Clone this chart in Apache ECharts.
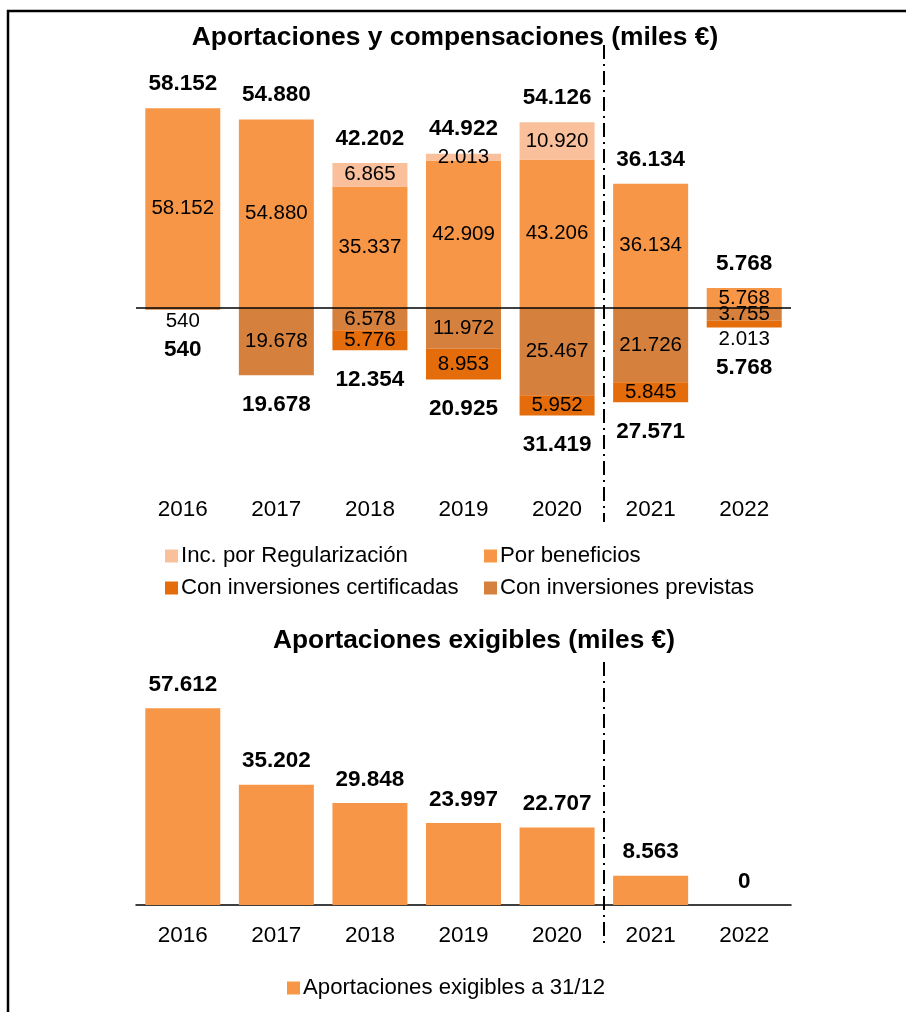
<!DOCTYPE html>
<html><head><meta charset="utf-8">
<script src="https://cdn.jsdelivr.net/npm/echarts@6/dist/echarts.min.js"></script>
<style>html,body{margin:0;padding:0;background:#fff}#c{width:906px;height:1012px}</style>
</head><body><div id="c"></div>
<script>
const years = ['2016','2017','2018','2019','2020','2021','2022'];
const regularizacion = [0,0,6865,2013,10920,0,0];
const beneficios = [58152,54880,35337,42909,43206,36134,5768];
const previstas = [540,19678,6578,11972,25467,21726,3755];
const certificadas = [0,0,5776,8953,5952,5845,2013];
const exigibles = [57612,35202,29848,23997,22707,8563,0];

const FONT = "'Liberation Sans Narrow','Arial Narrow','Liberation Sans',Arial,sans-serif";
const fmt = v => Math.abs(v).toString().replace(/\B(?=(\d{3})+(?!\d))/g, '.');
const SMALL = 2500;

const posTotal = years.map((_, i) => beneficios[i] + regularizacion[i]);
const negTotal = years.map((_, i) => previstas[i] + certificadas[i]);
const outerSmall = years.map((_, i) => {
  const outer = certificadas[i] > 0 ? certificadas[i] : previstas[i];
  return outer < SMALL;
});

const BW = 75;
const IN_SIZE = 20.5, BOLD_SIZE = 22.5, CAT_SIZE = 22.5, LEG_SIZE = 22.2;
const inLabel = {show: true, position: 'inside', fontFamily: FONT, fontSize: IN_SIZE, color: '#000',
  formatter: p => fmt(p.value)};
const negData = arr => arr.map(v => v > 0 ? {value: -v,
  label: v < SMALL ? {position: 'bottom', distance: 1} : undefined} : null);

const chart = echarts.init(document.getElementById('c'), null, {renderer: 'canvas'});
const legendItem = (name, left, top) => ({
  data: [name], left: left, top: top, icon: 'rect', itemWidth: 13, itemHeight: 13,
  selectedMode: false, textStyle: {fontFamily: FONT, fontSize: LEG_SIZE, color: '#000', padding: [0, 0, 0, -2]},
  padding: 0, itemGap: 0
});

chart.setOption({
  animation: false,
  title: [
    {text: 'Aportaciones y compensaciones (miles €)', left: 450, top: 20, textAlign: 'center',
     textStyle: {fontFamily: FONT, fontSize: 26.4, fontWeight: 'bold', color: '#000'}},
    {text: 'Aportaciones exigibles (miles €)', left: 469, top: 623, textAlign: 'center',
     textStyle: {fontFamily: FONT, fontSize: 26.3, fontWeight: 'bold', color: '#000'}}
  ],
  legend: [
    legendItem('Inc. por Regularización', 165, 545),
    legendItem('Por beneficios', 484, 545),
    legendItem('Con inversiones certificadas', 165, 577),
    legendItem('Con inversiones previstas', 484, 577),
    legendItem('Aportaciones exigibles a 31/12', 287, 977)
  ],
  grid: [
    {left: 136, width: 655, top: 102, height: 343},
    {left: 136, width: 655, top: 700, height: 205}
  ],
  xAxis: [
    {type: 'category', data: years, gridIndex: 0, axisLine: {show: false}, axisTick: {show: false},
     axisLabel: {margin: 53, fontFamily: FONT, fontSize: CAT_SIZE, color: '#000'}},
    {type: 'category', data: years, gridIndex: 1, axisLine: {show: true, onZero: true, lineStyle: {color: '#000', width: 1.5}},
     axisTick: {show: false}, axisLabel: {margin: 19, fontFamily: FONT, fontSize: CAT_SIZE, color: '#000'}}
  ],
  yAxis: [
    {type: 'value', gridIndex: 0, min: -40000, max: 60000, show: false, splitLine: {show: false}},
    {type: 'value', gridIndex: 1, min: 0, max: 60000, show: false, splitLine: {show: false}}
  ],
  series: [
    {name: 'Por beneficios', type: 'bar', stack: 'a', barWidth: BW, barGap: '-100%',
     itemStyle: {color: '#F79646'}, label: inLabel, data: beneficios,
     markLine: {silent: true, symbol: 'none', label: {show: false},
       lineStyle: {color: '#000', width: 1.5, type: 'solid'}, data: [{yAxis: 0}]}},
    {name: 'Inc. por Regularización', type: 'bar', stack: 'a', barWidth: BW, barGap: '-100%',
     itemStyle: {color: '#FAC09C'}, label: inLabel, data: regularizacion.map(v => v > 0 ? v : null)},
    {name: 'Con inversiones previstas', type: 'bar', stack: 'a', barWidth: BW, barGap: '-100%',
     itemStyle: {color: '#D5803D'}, label: inLabel, data: negData(previstas)},
    {name: 'Con inversiones certificadas', type: 'bar', stack: 'a', barWidth: BW, barGap: '-100%',
     itemStyle: {color: '#E46C0A'}, label: inLabel, data: negData(certificadas)},
    {name: 'totPos', type: 'bar', barWidth: BW, barGap: '-100%', itemStyle: {color: 'rgba(0,0,0,0)'},
     silent: true, z: 1,
     label: {show: true, position: 'top', distance: 13, fontFamily: FONT, fontSize: BOLD_SIZE, fontWeight: 'bold', color: '#000',
       formatter: p => fmt(p.value)}, data: posTotal},
    {name: 'totNeg', type: 'bar', barWidth: BW, barGap: '-100%', itemStyle: {color: 'rgba(0,0,0,0)'},
     silent: true, z: 1,
     label: {show: true, position: 'bottom', fontFamily: FONT, fontSize: BOLD_SIZE, fontWeight: 'bold', color: '#000',
       formatter: p => fmt(p.value)},
     data: negTotal.map((v, i) => ({value: -v, label: {distance: outerSmall[i] ? 29 : 18}}))},
    {name: 'Aportaciones exigibles a 31/12', type: 'bar', xAxisIndex: 1, yAxisIndex: 1, barWidth: BW,
     itemStyle: {color: '#F79646'},
     label: {show: true, position: 'top', distance: 12, fontFamily: FONT, fontSize: BOLD_SIZE, fontWeight: 'bold', color: '#000',
       formatter: p => fmt(p.value)}, data: exigibles}
  ]
});

function divider(axisIndex, y1, y2) {
  const a = chart.convertToPixel({xAxisIndex: axisIndex}, '2020');
  const b = chart.convertToPixel({xAxisIndex: axisIndex}, '2021');
  const x = Math.round((a + b) / 2);
  return {type: 'line', silent: true, shape: {x1: x, y1: y1, x2: x, y2: y2},
    style: {stroke: '#000', lineWidth: 2, lineDash: [14, 5, 2, 5]}};
}
chart.setOption({
  graphic: [
    divider(0, 45, 522),
    divider(1, 662, 946),
    {type: 'polyline', silent: true, shape: {points: [[8, 1012], [8, 11], [906, 11]]},
     style: {stroke: '#000', lineWidth: 2.5, fill: null}}
  ]
});
</script>
</body></html>
